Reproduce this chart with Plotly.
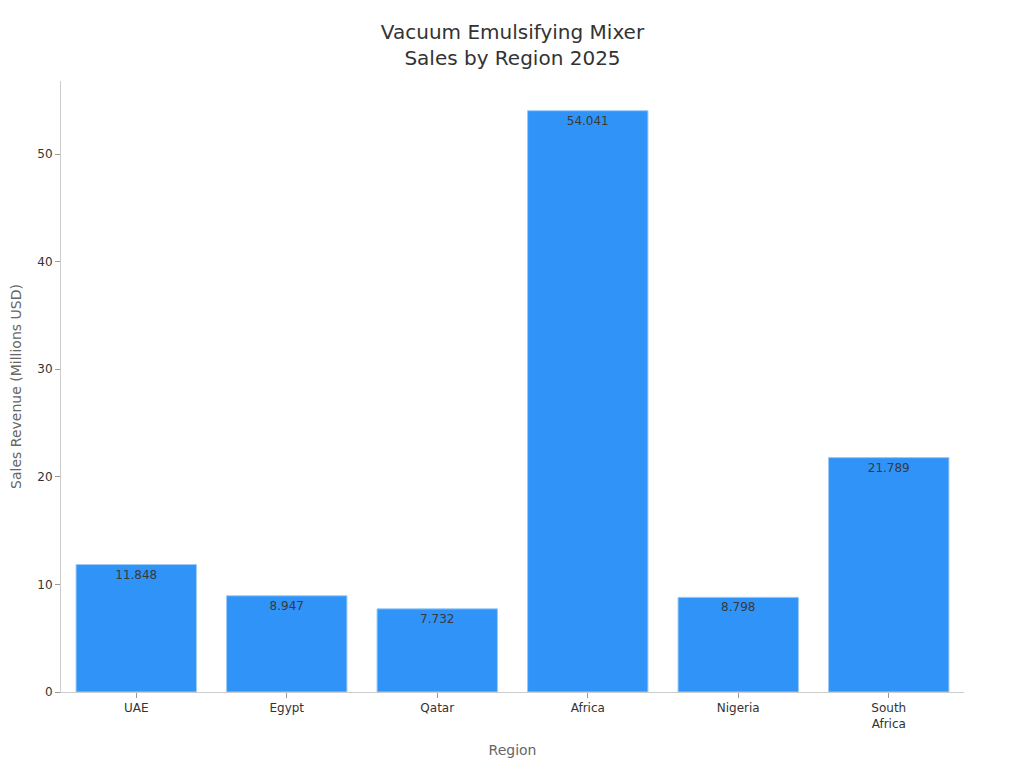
import plotly.graph_objects as go

# Sales revenue by region (millions USD)
regions = ["UAE", "Egypt", "Qatar", "Africa", "Nigeria", "South<br>Africa"]
revenue = [11.848, 8.947, 7.732, 54.041, 8.798, 21.789]
labels = [f"{v:.3f}" for v in revenue]

font = "DejaVu Sans, sans-serif"

fig = go.Figure(
    go.Bar(
        x=regions,
        y=revenue,
        text=labels,
        textposition="inside",
        insidetextanchor="end",
        textfont=dict(family=font, size=12, color="#3a3a3a"),
        marker=dict(color="#2f93f8", line=dict(color="#9ccaf7", width=1)),
    )
)

fig.update_layout(
    width=1024,
    height=768,
    paper_bgcolor="white",
    plot_bgcolor="white",
    font=dict(family=font, color="#333333"),
    title=dict(
        text="Vacuum Emulsifying Mixer<br>Sales by Region 2025",
        xref="paper",
        x=0.5,
        xanchor="center",
        y=0.959,
        yanchor="top",
        font=dict(family=font, size=20, color="#333333"),
    ),
    margin=dict(l=53, r=68, t=73, b=84),
    bargap=0.2,
    showlegend=False,
)

fig.update_xaxes(
    title=dict(text="Region", font=dict(size=14, color="#666666"), standoff=15),
    showline=True,
    linecolor="#cccccc",
    ticks="outside",
    tickcolor="#999999",
    ticklen=5,
    tickfont=dict(size=12, color="#333333"),
    showgrid=False,
)

fig.update_yaxes(
    title=dict(text="Sales Revenue (Millions USD)", font=dict(size=14, color="#666666"), standoff=17),
    automargin=False,
    range=[0, 56.8],
    showline=True,
    linecolor="#cccccc",
    ticks="outside",
    tickcolor="#999999",
    ticklen=5,
    tickfont=dict(size=12, color="#333333"),
    showgrid=False,
    zeroline=False,
    dtick=10,
)

fig.write_html("out.html")
